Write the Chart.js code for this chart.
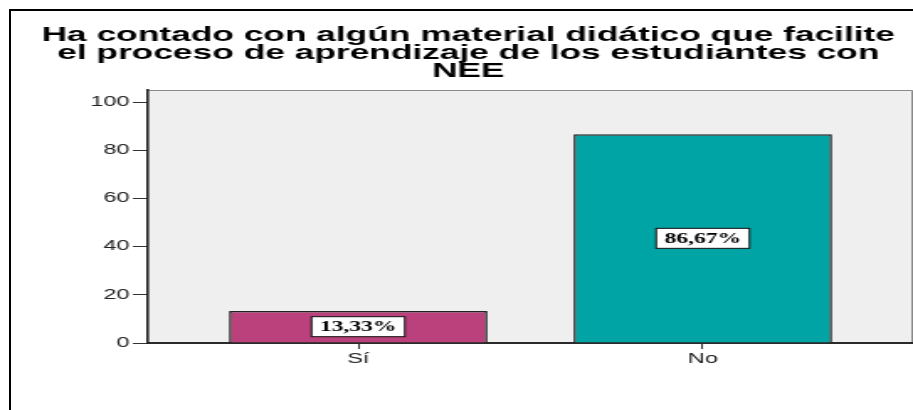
<!DOCTYPE html>
<html lang="es">
<head>
<meta charset="UTF-8" />
<title>Material didático - NEE</title>
<script src="https://cdn.jsdelivr.net/npm/chart.js"></script>
<style>
  html, body {
    margin: 0;
    padding: 0;
    background: #fff;
    overflow: hidden;
  }
  .wrap {
    position: relative;
    width: 913px;
    height: 410px;
  }
  #chart {
    display: block;
  }
  .frame {
    position: absolute;
    left: 9px;
    top: 9px;
    right: -20px;
    bottom: -20px;
    border: 2px solid #000;
    pointer-events: none;
  }
</style>
</head>
<body>

<div class="wrap">
  <!-- canvas drawn narrow and stretched, like the original picture -->
  <canvas id="chart" width="543" height="410" style="width:913px;height:410px"></canvas>
  <div class="frame"></div>
</div>

<script>
  // datos
  const categorias = ['Sí', 'No'];
  const porcentajes = [13.33, 86.67];
  const colores = ['#BA417B', '#00A4A4'];
  const yTicks = [0, 20, 40, 60, 80, 100];
  const titulo = [
    'Ha contado con algún material didático que facilite',
    'el proceso de aprendizaje de los estudiantes con',
    'NEE'
  ];

  // fondo gris del área del gráfico
  const fondoPlugin = {
    id: 'fondo',
    beforeDraw(chart) {
      const a = chart.chartArea;
      const ctx = chart.ctx;
      ctx.save();
      ctx.fillStyle = '#EFEFEF';
      ctx.fillRect(a.left, a.top, a.right - a.left, a.bottom - a.top);
      ctx.strokeStyle = '#8a8a8a';
      ctx.lineWidth = 1;
      ctx.beginPath();
      ctx.moveTo(a.left, a.top + 0.5);
      ctx.lineTo(a.right - 0.5, a.top + 0.5);
      ctx.lineTo(a.right - 0.5, a.bottom);
      ctx.stroke();
      ctx.restore();
    }
  };

  // etiquetas de porcentaje dentro de las barras
  const etiquetasPlugin = {
    id: 'etiquetas',
    afterDatasetsDraw(chart) {
      const ctx = chart.ctx;
      const meta = chart.getDatasetMeta(0);
      ctx.save();
      ctx.font = 'bold 14px "Liberation Serif", "Times New Roman", serif';
      ctx.textAlign = 'center';
      ctx.textBaseline = 'middle';
      meta.data.forEach((bar, i) => {
        const txt = porcentajes[i].toFixed(2).replace('.', ',') + '%';
        const w = ctx.measureText(txt).width + 10;
        const h = 20;
        const cx = bar.x;
        const cy = (bar.y + bar.base) / 2;
        ctx.fillStyle = '#fff';
        ctx.fillRect(cx - w / 2, cy - h / 2, w, h);
        ctx.strokeStyle = '#111';
        ctx.lineWidth = 1;
        ctx.strokeRect(cx - w / 2, cy - h / 2, w, h);
        ctx.fillStyle = '#000';
        ctx.fillText(txt, cx, cy + 1);
      });
      ctx.restore();
    }
  };

  const ctx = document.getElementById('chart').getContext('2d');

  new Chart(ctx, {
    type: 'bar',
    data: {
      datasets: [{
        data: porcentajes.map((v, i) => ({ x: i, y: v })),
        backgroundColor: colores,
        borderColor: '#222',
        borderWidth: 1.5,
        barPercentage: 0.75,
        categoryPercentage: 1
      }]
    },
    options: {
      responsive: false,
      animation: false,
      devicePixelRatio: 1,
      layout: {
        padding: { left: 14, right: 0, top: 0, bottom: 0 }
      },
      plugins: {
        legend: { display: false },
        tooltip: { enabled: false },
        title: {
          display: true,
          text: titulo,
          color: '#000',
          font: { family: '"Liberation Sans", Arial, sans-serif', size: 21, weight: 'bold', lineHeight: '18px' },
          padding: { top: 26, bottom: 10 }
        }
      },
      scales: {
        x: {
          type: 'linear',
          min: -0.61,
          max: 1.61,
          offset: false,
          afterBuildTicks: (scale) => {
            scale.ticks = categorias.map((c, i) => ({ value: i }));
          },
          afterFit: (scale) => { scale.height = 67; },
          ticks: {
            autoSkip: false,
            maxRotation: 0,
            padding: 2,
            color: '#222',
            font: { family: '"Liberation Sans", Arial, sans-serif', size: 14 },
            callback: (v) => categorias[v] !== undefined ? categorias[v] : ''
          },
          grid: {
            offset: false,
            drawOnChartArea: false,
            drawTicks: true,
            tickLength: 6,
            color: '#333'
          },
          border: { display: true, color: '#2a2a2a', width: 2 }
        },
        y: {
          min: 0,
          max: 105,
          afterBuildTicks: (scale) => {
            scale.ticks = yTicks.map(v => ({ value: v }));
          },
          afterFit: (scale) => { scale.width = 74; },
          ticks: {
            padding: 2,
            color: '#222',
            font: { family: '"Liberation Sans", Arial, sans-serif', size: 14 }
          },
          grid: {
            drawOnChartArea: false,
            drawTicks: true,
            tickLength: 9,
            color: '#333'
          },
          border: { display: true, color: '#222', width: 1.6 }
        }
      }
    },
    plugins: [fondoPlugin, etiquetasPlugin]
  });
</script>

</body>
</html>
